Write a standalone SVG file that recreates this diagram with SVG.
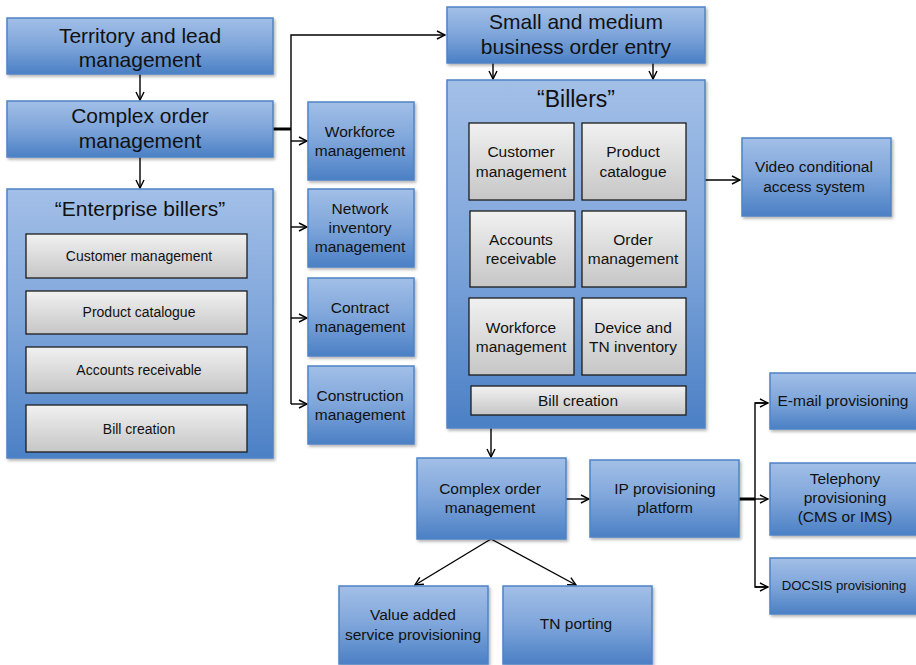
<svg xmlns="http://www.w3.org/2000/svg" width="916" height="665" viewBox="0 0 916 665">
  <defs>
    <linearGradient id="blueFill" x1="0" y1="0" x2="0" y2="1">
      <stop offset="0" stop-color="#a2bfe7"/>
      <stop offset="0.5" stop-color="#7ea5da"/>
      <stop offset="1" stop-color="#4b80c5"/>
    </linearGradient>
    <linearGradient id="grayFill" x1="0" y1="0" x2="0" y2="1">
      <stop offset="0" stop-color="#f1f1f1"/>
      <stop offset="1" stop-color="#c6c6c6"/>
    </linearGradient>
    <filter id="shadow" x="-10%" y="-10%" width="125%" height="125%">
      <feDropShadow dx="1.5" dy="2" stdDeviation="1.5" flood-color="#000" flood-opacity="0.3"/>
    </filter>
    <marker id="arrow" viewBox="0 0 10 10" refX="9" refY="5" markerWidth="10" markerHeight="10" markerUnits="userSpaceOnUse" orient="auto">
      <path d="M1,1 L9,5 L1,9" fill="none" stroke="#000" stroke-width="1.4"/>
    </marker>
    <style>
      .box { fill: url(#blueFill); stroke: #4f83c6; stroke-width: 1.5; filter: url(#shadow); }
      .inner { fill: url(#grayFill); stroke: #1c1c1c; stroke-width: 1.3; }
      text { font-family: "Liberation Sans", Arial, sans-serif; fill: #111; text-anchor: middle; }
      .big { font-size: 21px; }
      .mid { font-size: 15.5px; }
      .sm { font-size: 14px; }
      .xs { font-size: 13.2px; }
      .conn { fill: none; stroke: #000; stroke-width: 1.4; }
      .bus { fill: none; stroke: #000; stroke-width: 3; }
    </style>
  </defs>

  <!-- connectors -->
  <g id="connectors">
    <line class="conn" x1="140" y1="74" x2="140" y2="100" marker-end="url(#arrow)"/>
    <line class="conn" x1="140" y1="157" x2="140" y2="188" marker-end="url(#arrow)"/>
    <line class="bus" x1="273" y1="129" x2="291" y2="129"/>
    <polyline class="conn" points="291,404 291,35 445,35" marker-end="url(#arrow)"/>
    <line class="conn" x1="291" y1="141" x2="307" y2="141" marker-end="url(#arrow)"/>
    <line class="conn" x1="291" y1="227" x2="307" y2="227" marker-end="url(#arrow)"/>
    <line class="conn" x1="291" y1="318" x2="307" y2="318" marker-end="url(#arrow)"/>
    <line class="conn" x1="291" y1="404" x2="307" y2="404" marker-end="url(#arrow)"/>
    <line class="conn" x1="493" y1="63" x2="493" y2="79" marker-end="url(#arrow)"/>
    <line class="conn" x1="653" y1="63" x2="653" y2="79" marker-end="url(#arrow)"/>
    <line class="conn" x1="705" y1="180" x2="740" y2="180" marker-end="url(#arrow)"/>
    <line class="conn" x1="491" y1="428" x2="491" y2="457" marker-end="url(#arrow)"/>
    <line class="conn" x1="566" y1="499" x2="589" y2="499" marker-end="url(#arrow)"/>
    <line class="conn" x1="491" y1="539" x2="415" y2="585" marker-end="url(#arrow)"/>
    <line class="conn" x1="491" y1="539" x2="576" y2="585" marker-end="url(#arrow)"/>
    <line class="bus" x1="739" y1="499" x2="755" y2="499"/>
    <polyline class="conn" points="768,403 755,403 755,587 768,587"/>
    <line class="conn" x1="755" y1="403" x2="768" y2="403" marker-end="url(#arrow)"/>
    <line class="conn" x1="755" y1="499" x2="768" y2="499" marker-end="url(#arrow)"/>
    <line class="conn" x1="755" y1="587" x2="768" y2="587" marker-end="url(#arrow)"/>
  </g>

  <g id="territory">
    <rect class="box" x="7" y="18" width="266" height="56"/>
    <text class="big" x="140" y="43">Territory and lead</text>
    <text class="big" x="140" y="67">management</text>
  </g>

  <g id="complex-order-top">
    <rect class="box" x="7" y="101" width="266" height="56"/>
    <text class="big" x="140" y="123">Complex order</text>
    <text class="big" x="140" y="148">management</text>
  </g>

  <g id="enterprise-billers">
    <rect class="box" x="7" y="189" width="266" height="269"/>
    <text class="big" x="140" y="216">“Enterprise billers”</text>
    <rect class="inner" x="26" y="234" width="221" height="44"/>
    <text class="sm" x="139" y="261">Customer management</text>
    <rect class="inner" x="26" y="291" width="221" height="43"/>
    <text class="sm" x="139" y="317">Product catalogue</text>
    <rect class="inner" x="26" y="347" width="221" height="46"/>
    <text class="sm" x="139" y="375">Accounts receivable</text>
    <rect class="inner" x="26" y="405" width="221" height="47"/>
    <text class="sm" x="139" y="434">Bill creation</text>
  </g>

  <g id="workforce">
    <rect class="box" x="308" y="102" width="106" height="78"/>
    <text class="mid" x="360" y="137">Workforce</text>
    <text class="mid" x="360" y="156">management</text>
  </g>

  <g id="network-inventory">
    <rect class="box" x="308" y="189" width="106" height="78"/>
    <text class="mid" x="360" y="214">Network</text>
    <text class="mid" x="360" y="233">inventory</text>
    <text class="mid" x="360" y="252">management</text>
  </g>

  <g id="contract">
    <rect class="box" x="308" y="278" width="106" height="78"/>
    <text class="mid" x="360" y="313">Contract</text>
    <text class="mid" x="360" y="332">management</text>
  </g>

  <g id="construction">
    <rect class="box" x="308" y="366" width="106" height="78"/>
    <text class="mid" x="360" y="401">Construction</text>
    <text class="mid" x="360" y="420">management</text>
  </g>

  <g id="smb-order-entry">
    <rect class="box" x="447" y="7" width="258" height="56"/>
    <text class="big" x="576" y="29">Small and medium</text>
    <text class="big" x="576" y="54">business order entry</text>
  </g>

  <g id="billers">
    <rect class="box" x="447" y="80" width="258" height="348"/>
    <text x="576" y="107" style="font-size:23px">“Billers”</text>
    <rect class="inner" x="469" y="123" width="105" height="77"/>
    <text class="mid" x="521" y="157">Customer</text>
    <text class="mid" x="521" y="177">management</text>
    <rect class="inner" x="582" y="123" width="104" height="77"/>
    <text class="mid" x="633" y="157">Product</text>
    <text class="mid" x="633" y="177">catalogue</text>
    <rect class="inner" x="470" y="211" width="105" height="76"/>
    <text class="mid" x="521" y="245">Accounts</text>
    <text class="mid" x="521" y="264">receivable</text>
    <rect class="inner" x="582" y="211" width="104" height="76"/>
    <text class="mid" x="633" y="245">Order</text>
    <text class="mid" x="633" y="264">management</text>
    <rect class="inner" x="469" y="298" width="105" height="77"/>
    <text class="mid" x="521" y="333">Workforce</text>
    <text class="mid" x="521" y="352">management</text>
    <rect class="inner" x="582" y="298" width="104" height="77"/>
    <text class="mid" x="633" y="333">Device and</text>
    <text class="mid" x="633" y="352">TN inventory</text>
    <rect class="inner" x="471" y="386" width="215" height="29"/>
    <text class="mid" x="578" y="406">Bill creation</text>
  </g>

  <g id="video-cas">
    <rect class="box" x="742" y="138" width="149" height="78"/>
    <text class="mid" x="814" y="172">Video conditional</text>
    <text class="mid" x="814" y="192">access system</text>
  </g>

  <g id="complex-order-bottom">
    <rect class="box" x="417" y="458" width="149" height="81"/>
    <text class="mid" x="490" y="494">Complex order</text>
    <text class="mid" x="490" y="513">management</text>
  </g>

  <g id="ip-provisioning">
    <rect class="box" x="590" y="460" width="149" height="77"/>
    <text class="mid" x="665" y="494">IP provisioning</text>
    <text class="mid" x="665" y="513">platform</text>
  </g>

  <g id="vas-provisioning">
    <rect class="box" x="339" y="586" width="149" height="78"/>
    <text class="mid" x="413" y="620">Value added</text>
    <text class="mid" x="413" y="640">service provisioning</text>
  </g>

  <g id="tn-porting">
    <rect class="box" x="503" y="586" width="149" height="78"/>
    <text class="mid" x="576" y="629">TN porting</text>
  </g>

  <g id="email-provisioning">
    <rect class="box" x="770" y="373" width="150" height="56"/>
    <text class="mid" x="843" y="406">E-mail provisioning</text>
  </g>

  <g id="telephony-provisioning">
    <rect class="box" x="770" y="463" width="150" height="72"/>
    <text class="mid" x="845" y="484">Telephony</text>
    <text class="mid" x="845" y="503">provisioning</text>
    <text class="mid" x="845" y="522">(CMS or IMS)</text>
  </g>

  <g id="docsis-provisioning">
    <rect class="box" x="770" y="558" width="150" height="56"/>
    <text class="xs" x="844" y="590">DOCSIS provisioning</text>
  </g>
</svg>
